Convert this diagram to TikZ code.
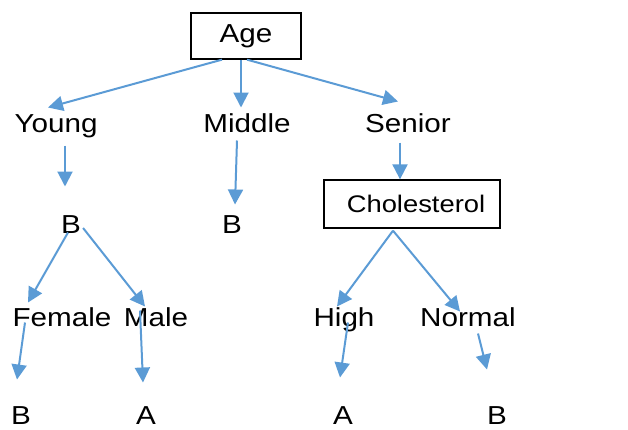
\documentclass[tikz,border=0pt]{standalone}
\usepackage{fontspec}
\setmainfont[FakeStretch=1.14]{Liberation Sans}
\usetikzlibrary{arrows.meta}
\definecolor{arrblue}{RGB}{91,155,213}
\begin{document}
\begin{tikzpicture}[x=1pt,y=-1pt,
  lbl/.style={inner sep=0, text height=18.6pt, text depth=0pt, font=\fontsize{26}{31}\selectfont},
  boxed/.style={draw, line width=1.3pt, inner sep=0, font=\fontsize{26}{31}\selectfont},
  arr/.style={arrblue, line width=2pt, -{Triangle[length=15pt,width=15pt]}}]
\useasboundingbox (0,0) rectangle (628,429);
% root and first split
\node[boxed, minimum width=110pt, minimum height=46pt] (age) at (246,36){Age};
\node[lbl] (young) at (56,123){Young};
\node[lbl] (middle) at (247,123){Middle};
\node[lbl] (senior) at (408,123){Senior};
\draw[arr]([xshift=-24pt]age.south) -- ([xshift=-8pt,yshift=6pt]young.north);
\draw[arr]([xshift=-5pt]age.south) -- ([xshift=-6pt,yshift=6pt]middle.north);
\draw[arr]([xshift=1pt]age.south) -- ([xshift=-10pt,yshift=12pt]senior.north);
% young branch
\node[lbl] (youngb) at (71,224){B};
\node[lbl] (female) at (62,317){Female};
\node[lbl] (male) at (156,317){Male};
\node[lbl] (femaleb) at (21,415){B};
\node[lbl] (malea) at (146,415){A};
\draw[arr]([xshift=9pt,yshift=-13pt]young.south) -- ([xshift=-6pt,yshift=28pt]youngb.north);
\draw[arr]([xshift=-3pt,yshift=1pt]youngb.south) -- ([xshift=-34pt,yshift=5pt]female.north);
\draw[arr]([xshift=2pt,yshift=-4pt]youngb.east) -- ([xshift=-11pt,yshift=1pt]male.north);
\draw[arr]([xshift=-37pt,yshift=4pt]female.south) -- ([xshift=-4pt,yshift=26pt]femaleb.north);
\draw[arr]([xshift=-16pt,yshift=16pt]male.south) -- ([xshift=-3pt,yshift=23pt]malea.north);
% middle branch
\node[lbl] (middleb) at (232,224){B};
\draw[arr]([xshift=-10pt,yshift=-8pt]middle.south) -- ([xshift=3pt,yshift=10pt]middleb.north);
% senior branch
\node[boxed, minimum width=176pt, minimum height=48pt, font=\fontsize{24}{28}\selectfont] (chol) at (412,204){\hspace*{8pt}Cholesterol};
\node[lbl] (high) at (344,317){High};
\node[lbl] (normal) at (468,317){Normal};
\node[lbl] (higha) at (343,415){A};
\node[lbl] (normalb) at (497,415){B};
\draw[arr]([xshift=-8pt,yshift=-10pt]senior.south) -- ([xshift=-12pt]chol.north);
\draw[arr]([xshift=-19pt,yshift=-2pt]chol.south) -- ([xshift=-7pt,yshift=1pt]high.north);
\draw[arr]([xshift=-19pt,yshift=-2pt]chol.south) -- ([xshift=-8pt,yshift=-4pt]normal.north);
\draw[arr]([xshift=4pt,yshift=4pt]high.south) -- ([xshift=-3pt,yshift=28pt]higha.north);
\draw[arr]([xshift=10pt,yshift=-7pt]normal.south) -- ([xshift=-10pt,yshift=36pt]normalb.north);
\end{tikzpicture}
\end{document}
